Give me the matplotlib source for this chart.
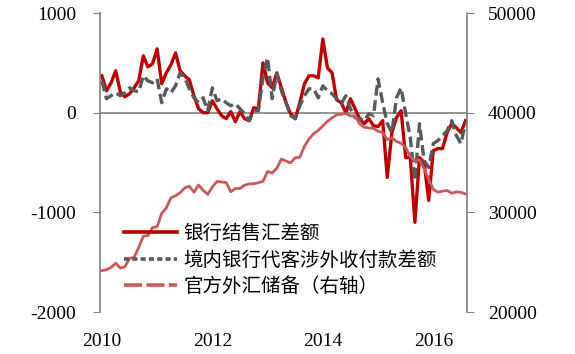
import numpy as np
import matplotlib.pyplot as plt
from matplotlib.lines import Line2D
from matplotlib.font_manager import FontProperties

# monthly, Jan 2010 - Aug 2016
months = np.arange(80)

# 银行结售汇差额 (left axis)
settle = [370, 220, 300, 420, 210, 160, 190, 250, 320, 570, 460, 490,
          640, 290, 400, 480, 600, 420, 370, 330, 170, 40, 0, 0,
          120, 40, -30, -60, 10, -90, 10, -60, -80, 50, 40, 500,
          300, 250, 400, 250, 100, -10, -60, 100, 290, 370, 370, 350,
          740, 450, 400, 130, 100, 0, 140, 40, -60, -110, -60, -130,
          -140, -80, -650, -200, -50, 20, -450, -450, -1100, -450, -500, -880,
          -380, -360, -360, -200, -110, -150, -200, -80]

# 境内银行代客涉外收付款差额 (left axis)
receipts = [320, 140, 170, 200, 170, 200, 250, 220, 210, 370, 320, 300,
            340, 100, 240, 200, 270, 400, 350, 240, 150, 100, 150, 20,
            250, 120, 140, 100, 70, 90, 40, -10, -80, 20, 20, 350,
            550, 140, 390, 220, 100, -30, -60, 70, 170, 240, 240, 150,
            270, 220, 190, 140, 90, 170, 40, -50, -60, -80, -10, -30,
            340, 100, -110, -200, 150, 250, -10, -250, -680, -110, -480, -550,
            -310, -280, -230, -180, -80, -230, -310, -100]

# 官方外汇储备 (right axis)
reserves = [24153, 24245, 24471, 24905, 24395, 24543, 25380, 25480, 26483, 27608, 27677, 28473,
            28566, 29914, 30447, 31458, 31661, 31975, 32452, 32625, 32017, 32738, 32209, 31811,
            32536, 33096, 33050, 32989, 32061, 32400, 32400, 32729, 32850, 32873, 32976, 33116,
            34100, 33954, 34426, 35345, 35148, 34967, 35478, 35530, 36627, 37366, 37894, 38213,
            38666, 39137, 39481, 39788, 39838, 39932, 39662, 39688, 38877, 38529, 38473, 38430,
            38134, 38015, 37300, 37481, 37111, 36938, 36513, 35574, 35141, 35255, 34383, 33304,
            32309, 32023, 32126, 32197, 31917, 32052, 32011, 31852]

year_ticks = [0, 24, 48, 72]
year_labels = ['2010', '2012', '2014', '2016']
labels = ['银行结售汇差额', '境内银行代客涉外收付款差额', '官方外汇储备（右轴）']

red = '#C00000'
grey = '#595959'
pink = '#C9595B'
axis_col = '#808080'

plt.rcParams['font.family'] = ['Liberation Serif', 'Noto Sans CJK SC']
plt.rcParams['axes.unicode_minus'] = False

fig = plt.figure(figsize=(5.75, 3.54), dpi=100)
ax = fig.add_axes([0.174, 0.1186, 0.638, 0.8446])
ax2 = ax.twinx()

ax.axhline(0, color=axis_col, lw=1.2, zorder=1)
ax.plot(months, settle, color=red, lw=2.4, zorder=2)
ax.plot(months, receipts, color=grey, lw=2.4, dashes=(3.2, 1.4), zorder=3)
ax2.plot(months, reserves, color=pink, lw=2.0)

ax.set_xlim(-0.4, 79.3)
ax.set_ylim(-2000, 1000)
ax.set_yticks([-2000, -1000, 0, 1000])
ax2.set_ylim(20000, 50000)
ax2.set_yticks([20000, 30000, 40000, 50000])
ax.set_xticks(year_ticks, year_labels)

for a in (ax, ax2):
    for s in ('top', 'bottom'):
        a.spines[s].set_visible(False)
ax.spines['right'].set_visible(False)
ax2.spines['left'].set_visible(False)
ax.spines['left'].set_color(axis_col)
ax2.spines['right'].set_color(axis_col)
ax.spines['left'].set_linewidth(1.2)
ax2.spines['right'].set_linewidth(1.2)

ax.tick_params(axis='y', direction='out', length=5, color=axis_col, pad=12, labelsize=14)
ax2.tick_params(axis='y', direction='out', length=5, color=axis_col, pad=10, labelsize=14)
ax.tick_params(axis='x', length=0, pad=15, labelsize=14)

handles = [Line2D([], [], color=red, lw=2.6),
           Line2D([], [], color=grey, lw=2.6, dashes=(1.4, 0.9)),
           Line2D([], [], color=pink, lw=2.6, dashes=(5, 1.2))]
ax2.legend(handles, labels, loc='upper left', bbox_to_anchor=(0.04, 0.33),
           frameon=False, prop=FontProperties(family=['Noto Sans CJK SC'], size=14),
           handlelength=2.7, handletextpad=0.35, labelspacing=0.28, borderpad=0)

fig.savefig('out.png', dpi=100)
